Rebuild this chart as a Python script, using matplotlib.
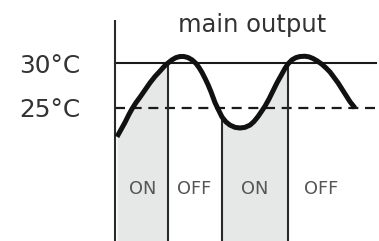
import matplotlib
matplotlib.use("Agg")
import matplotlib.pyplot as plt
import numpy as np

# ---- data (time in arbitrary units, temperature in degC) ----
time = [117, 121, 125, 129, 132, 136, 140, 145, 150, 155, 160, 164, 168, 172,
        176, 180, 184, 188, 192, 196, 199, 202, 205, 208, 211, 215, 218, 222,
        226, 230, 235, 240, 245, 250, 254, 258, 262, 265, 269, 273, 277, 281,
        285, 288, 292, 296, 300, 305, 309, 313, 317, 322, 326, 330, 334, 338,
        342, 346, 350, 355]
temp = [21.8, 22.6, 23.4, 24.3, 24.9, 25.6, 26.2, 27.0, 27.8, 28.5, 29.1, 29.6,
        30.0, 30.35, 30.6, 30.72, 30.72, 30.6, 30.35, 29.95, 29.5, 28.95, 28.3,
        27.6, 26.8, 25.6, 24.9, 24.0, 23.45, 23.1, 22.85, 22.78, 22.85, 23.1,
        23.5, 24.05, 24.7, 25.2, 26.0, 26.9, 27.8, 28.6, 29.4, 29.9, 30.35,
        30.6, 30.72, 30.75, 30.68, 30.5, 30.25, 29.85, 29.45, 29.0, 28.4, 27.8,
        27.1, 26.4, 25.7, 25.0]
upper_set = 30
lower_set = 25
switch_times = [168, 222, 288]
on_periods = [(117, 168), (222, 288)]
state_labels = ["ON", "OFF", "ON", "OFF"]
state_x = [143, 194.5, 255, 321]
level_labels = ["30°C", "25°C"]
title = "main output"

fig = plt.figure(figsize=(3.79, 2.41), dpi=100)
ax = fig.add_axes([0, 0, 1, 1])
ax.set_xlim(0, 379)
ymin, ymax = 30 - 178 / 9, 30 + 63 / 9
ax.set_ylim(ymin, ymax)
ax.axis("off")

t = np.array(time)
T = np.array(temp)

# shaded ON periods
for a, b in on_periods:
    m = (t >= a) & (t <= b)
    ax.fill_between(t[m], ymin, T[m], color="#e6e7e7", lw=0, zorder=1)

# axis line
ax.plot([115, 115], [ymin, 30 + 43 / 9], color="#2a2a2a", lw=1.5, zorder=3,
        solid_capstyle="butt")

# set-point lines
ax.plot([115, 376], [upper_set, upper_set], color="#1a1a1a", lw=1.5, zorder=2)
ax.plot([115, 379], [lower_set, lower_set], color="#1a1a1a", lw=1.6, zorder=2,
        dashes=(4.5, 3.0))

# switch lines
for s in switch_times:
    ax.plot([s, s], [ymin, np.interp(s, t, T)], color="#2a2a2a", lw=1.5,
            zorder=3, solid_capstyle="butt")

# temperature curve
ax.plot(t, T, color="#111111", lw=3.6, zorder=4, solid_capstyle="butt",
        solid_joinstyle="round")

# texts
ax.text(252, 30 + 31 / 9, title, ha="center", va="baseline", fontsize=17.5,
        color="#333333")
ax.text(49.7, 30 - 10 / 9, level_labels[0], ha="center", va="baseline",
        fontsize=17.8, color="#333333")
ax.text(49.7, 30 - 54 / 9, level_labels[1], ha="center", va="baseline",
        fontsize=17.8, color="#333333")
for lab, x in zip(state_labels, state_x):
    ax.text(x, 30 - 131 / 9, lab, ha="center", va="baseline", fontsize=12.8,
            color="#555555")

fig.savefig("out.png", dpi=100)
